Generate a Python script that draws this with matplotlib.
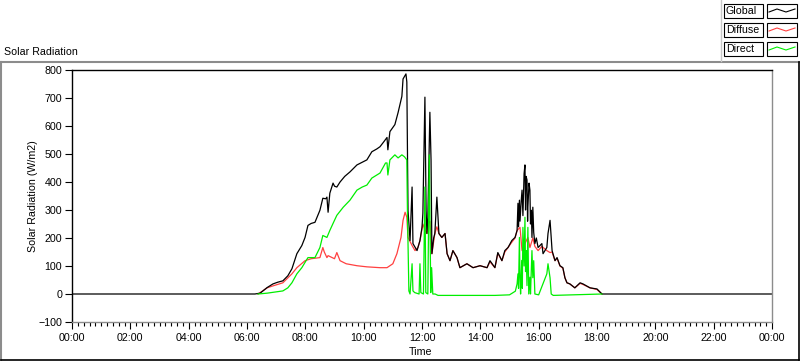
import numpy as np
import matplotlib.pyplot as plt
from matplotlib.lines import Line2D
from matplotlib.patches import Rectangle

plt.rcParams['font.family'] = ['Liberation Sans', 'DejaVu Sans']
plt.rcParams['font.size'] = 7.7

# time in decimal hours, radiation in W/m2
t_global = [0.0, 6.27, 6.45, 6.69, 6.89, 7.05, 7.23, 7.40, 7.54, 7.71, 7.88, 7.99,
            8.09, 8.20, 8.33, 8.50, 8.60, 8.70, 8.74, 8.78, 8.84, 8.95, 9.00, 9.08,
            9.19, 9.35, 9.53, 9.77, 10.11, 10.28, 10.45, 10.56, 10.70, 10.80, 10.83,
            10.90, 11.07, 11.18, 11.31, 11.35, 11.45, 11.48, 11.50, 11.52, 11.59,
            11.66, 11.69, 11.83, 11.93, 12.00, 12.03, 12.10, 12.14, 12.17, 12.20,
            12.27, 12.31, 12.34, 12.40, 12.44, 12.51, 12.58, 12.68, 12.79, 12.86,
            12.96, 13.06, 13.20, 13.30, 13.54, 13.75, 13.99, 14.23, 14.33, 14.50,
            14.60, 14.74, 14.84, 14.95, 15.08, 15.19, 15.26, 15.29, 15.31, 15.34,
            15.36, 15.40, 15.43, 15.46, 15.50, 15.53, 15.55, 15.57, 15.60, 15.62,
            15.63, 15.67, 15.70, 15.72, 15.75, 15.77, 15.80, 15.83, 15.87, 15.92,
            15.98, 16.11, 16.15, 16.28, 16.32, 16.39, 16.46, 16.56,
            16.63, 16.73, 16.83, 16.90, 16.97, 17.07, 17.24, 17.30, 17.42, 17.52,
            17.76, 18.00, 18.17, 24.0]
v_global = [0, 0, 3, 23, 36, 42, 47, 65, 90, 144, 173, 202,
            245, 252, 256, 299, 342, 340, 346, 292, 360, 396, 385, 382,
            400, 420, 436, 461, 479, 508, 518, 526, 545, 559, 515,
            580, 605, 648, 706, 768, 786, 757, 526, 299, 191,
            382, 180, 155, 191, 238, 288, 703, 300, 216, 274,
            649, 479, 144, 200, 216, 346, 216, 202, 216, 144,
            119, 155, 130, 94, 108, 94, 101, 94, 119, 94,
            148, 119, 155, 166, 191, 202, 227, 324, 240, 335,
            260, 330, 371, 280, 430, 461, 300, 420, 407, 260,
            310, 396, 371, 250, 299, 202, 310, 220, 180, 200,
            166, 180, 144, 166, 216, 263, 155, 119,
            130, 101, 94, 58, 40, 36, 22, 28, 40, 36,
            22, 18, 0, 0]

t_diffuse = [6.38, 6.69, 6.89, 7.23, 7.54, 7.71, 7.99, 8.20, 8.50, 8.60, 8.65, 8.74,
             8.78, 9.00, 9.08, 9.19, 9.40, 9.77, 10.11, 10.56, 10.80, 11.00, 11.14,
             11.28, 11.35, 11.42, 11.48, 11.52, 11.66, 11.76, 11.86, 11.93, 12.03,
             12.10, 12.17, 12.20, 12.27, 12.34, 12.44, 12.51, 12.58, 12.68, 12.79,
             12.86, 12.96, 13.06, 13.20, 13.30, 13.54, 13.75, 13.99, 14.23, 14.33,
             14.50, 14.60, 14.74, 14.84, 14.95, 15.08, 15.19, 15.26, 15.36, 15.43,
             15.53, 15.63, 15.70, 15.80, 15.87, 15.98, 16.11, 16.28, 16.39, 16.46,
             16.56, 16.63, 16.73, 16.83, 16.90, 16.97, 17.07, 17.24, 17.42, 17.52,
             17.76, 18.00, 18.17]
v_diffuse = [0, 22, 29, 40, 72, 94, 119, 126, 130, 166, 150, 130,
             137, 126, 148, 119, 108, 101, 97, 94, 94, 108, 144,
             202, 263, 292, 274, 202, 173, 155, 166, 190, 250,
             230, 216, 250, 260, 144, 216, 240, 216, 202, 216,
             144, 119, 155, 130, 94, 108, 94, 101, 94, 115,
             94, 145, 119, 150, 166, 185, 200, 227, 238, 155,
             180, 202, 166, 200, 170, 155, 170, 155, 148, 150,
             119, 128, 100, 92, 58, 40, 36, 22, 38, 34,
             22, 16, 0]

t_direct = [6.38, 6.69, 7.23, 7.40, 7.54, 7.71, 7.88, 8.09, 8.33, 8.50, 8.60, 8.74,
            8.84, 8.95, 9.08, 9.30, 9.53, 9.77, 9.95, 10.11, 10.28, 10.56, 10.75,
            10.80, 10.83, 10.90, 11.07, 11.18, 11.31, 11.40, 11.48, 11.50, 11.55,
            11.59, 11.66, 11.69, 11.75, 11.90, 11.93, 11.96, 12.05, 12.10, 12.13,
            12.20, 12.25, 12.30, 12.33, 12.37, 12.45, 12.55, 14.50, 15.00, 15.20,
            15.26, 15.29, 15.31, 15.34, 15.36, 15.38, 15.42, 15.44, 15.46, 15.50,
            15.53, 15.55, 15.57, 15.60, 15.63, 15.66, 15.70, 15.72, 15.77,
            15.80, 15.83, 15.87, 16.00, 16.28, 16.32, 16.39, 16.43, 16.50, 18.17]
v_direct = [0, 3, 11, 22, 40, 72, 94, 130, 130, 166, 209, 202,
            227, 252, 281, 310, 335, 371, 382, 389, 414, 432, 468,
            468, 425, 479, 497, 486, 497, 490, 479, 299, 11,
            0, 108, 11, 5, 0, 108, 5, 0, 382, 5,
            0, 497, 5, 94, 0, 0, -5, -5, -3, 10,
            36, 72, 20, 202, 60, 0, 120, 20, 238, 100,
            274, 80, 155, 30, 238, 0, 60, 0, 155,
            58, 119, 0, -3, 72, 108, 58, 0, -5, 0]

series_names = ['Global', 'Diffuse', 'Direct']
series_colors = ['black', '#ff4040', '#00ee00']

W, H = 800, 361
fig = plt.figure(figsize=(8, 3.61), dpi=100)


def fx(px):
    return px / W


def fy(py):
    return 1 - py / H


ax = fig.add_axes([fx(72), fy(322), fx(772) - fx(72), fy(70) - fy(322)])

ax.plot(t_diffuse, v_diffuse, color=series_colors[1], lw=0.9)
ax.plot(t_global, v_global, color=series_colors[0], lw=0.9)
ax.plot(t_direct, v_direct, color=series_colors[2], lw=0.9)

ax.set_xlim(0, 24)
ax.set_ylim(-100, 800)
ax.set_yticks(range(-100, 801, 100))
ax.set_xticks(range(0, 25, 2))
ax.set_xticklabels(['%02d:00' % (h % 24) for h in range(0, 25, 2)])
ax.set_xticks(np.arange(0, 24.01, 0.2), minor=True)
ax.tick_params(axis='x', which='major', length=5, width=0.8, pad=3)
ax.tick_params(axis='x', which='minor', length=3, width=0.8)
ax.tick_params(axis='y', length=5, width=0.8, pad=2)

for s in ['left', 'top']:
    ax.spines[s].set_color('black')
    ax.spines[s].set_linewidth(1)
for s in ['right', 'bottom']:
    ax.spines[s].set_color('#8c8c8c')
    ax.spines[s].set_linewidth(1)

fig.text(fx(4), fy(52), 'Solar Radiation', ha='left', va='center')
fig.text(fx(33), fy(196), 'Solar Radiation (W/m2)', rotation=90, ha='center', va='center')
fig.text(fx(421), fy(352), 'Time', ha='center', va='center')

# outer frame
tf = fig.transFigure
fig.add_artist(Line2D([fx(1), fx(1)], [fy(62), fy(360)], color='#8c8c8c', lw=1.5, transform=tf))
fig.add_artist(Line2D([fx(1), fx(799)], [fy(62), fy(62)], color='#8c8c8c', lw=1.5, transform=tf))
fig.add_artist(Line2D([fx(799), fx(799)], [fy(62), fy(360)], color='black', lw=1.2, transform=tf))
fig.add_artist(Line2D([fx(1), fx(799)], [fy(360), fy(360)], color='black', lw=1.2, transform=tf))
fig.add_artist(Line2D([fx(721), fx(721)], [fy(0), fy(61)], color='#c8c8c8', lw=1, transform=tf))

# legend
for i, (name, col) in enumerate(zip(series_names, series_colors)):
    top = 4 + 19 * i
    bot = top + 14
    fig.add_artist(Rectangle((fx(724), fy(bot)), fx(763) - fx(724), fy(top) - fy(bot),
                             fill=False, ec='black', lw=0.8, transform=tf))
    fig.add_artist(Rectangle((fx(767), fy(bot)), fx(797) - fx(767), fy(top) - fy(bot),
                             fill=False, ec='black', lw=0.8, transform=tf))
    fig.text(fx(726), fy((top + bot) / 2), name, ha='left', va='center')
    zx = [769, 777, 786, 795]
    zy = [top + 8, top + 5, top + 8, top + 5]
    fig.add_artist(Line2D([fx(x) for x in zx], [fy(y) for y in zy], color=col, lw=0.8, transform=tf))

fig.savefig('out.png', dpi=100)
